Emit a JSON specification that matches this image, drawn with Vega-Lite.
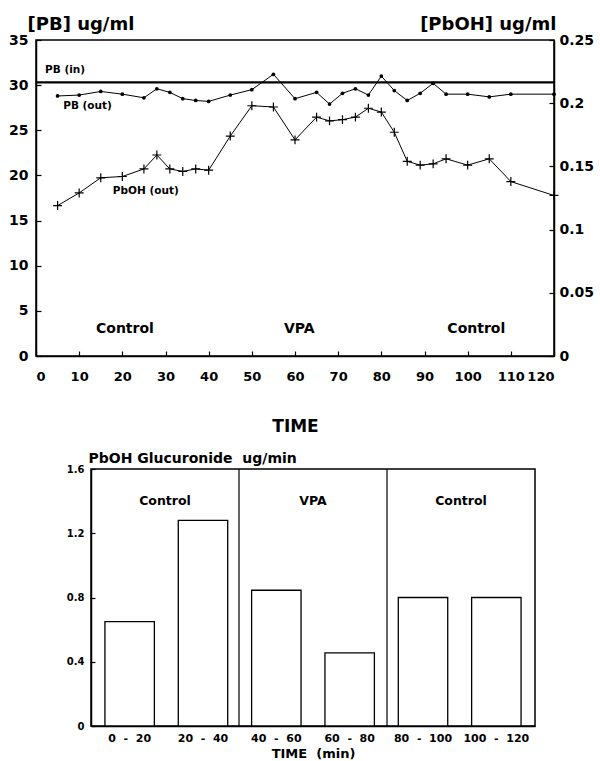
{
  "$schema": "https://vega.github.io/schema/vega-lite/v6.json",
  "padding": {"left": 7, "top": 14, "right": 5, "bottom": 0},
  "spacing": 15,
  "config": {
    "font": "DejaVu Sans",
    "view": {"stroke": "black", "strokeWidth": 1.5},
    "axis": {"labelFont": "DejaVu Sans", "labelFontWeight": "bold", "labelColor": "black", "titleFont": "DejaVu Sans", "titleFontWeight": "bold", "titleColor": "black", "domainColor": "black", "domainWidth": 1.5, "tickColor": "black", "tickWidth": 1.2, "grid": false},
    "text": {"font": "DejaVu Sans", "fontWeight": "bold", "color": "black"}
  },
  "datasets": {
    "pb_in": [{"t": 0, "pb": 30.3}, {"t": 120, "pb": 30.3}],
    "pb_out": [
      {"t": 5, "pb": 28.8}, {"t": 10, "pb": 28.9}, {"t": 15, "pb": 29.3}, {"t": 20, "pb": 29.0}, {"t": 25, "pb": 28.6},
      {"t": 28, "pb": 29.6}, {"t": 31, "pb": 29.2}, {"t": 34, "pb": 28.5}, {"t": 37, "pb": 28.3}, {"t": 40, "pb": 28.2},
      {"t": 45, "pb": 28.9}, {"t": 50, "pb": 29.5}, {"t": 55, "pb": 31.2}, {"t": 60, "pb": 28.5}, {"t": 65, "pb": 29.2},
      {"t": 68, "pb": 27.9}, {"t": 71, "pb": 29.1}, {"t": 74, "pb": 29.6}, {"t": 77, "pb": 28.9}, {"t": 80, "pb": 31.0},
      {"t": 83, "pb": 29.4}, {"t": 86, "pb": 28.3}, {"t": 89, "pb": 29.1}, {"t": 92, "pb": 30.2}, {"t": 95, "pb": 29.0},
      {"t": 100, "pb": 29.0}, {"t": 105, "pb": 28.7}, {"t": 110, "pb": 29.0}, {"t": 120, "pb": 29.0}
    ],
    "pboh": [
      {"t": 5, "pboh": 0.119}, {"t": 10, "pboh": 0.129}, {"t": 15, "pboh": 0.141}, {"t": 20, "pboh": 0.142}, {"t": 25, "pboh": 0.148},
      {"t": 28, "pboh": 0.159}, {"t": 31, "pboh": 0.148}, {"t": 34, "pboh": 0.146}, {"t": 37, "pboh": 0.148}, {"t": 40, "pboh": 0.147},
      {"t": 45, "pboh": 0.174}, {"t": 50, "pboh": 0.198}, {"t": 55, "pboh": 0.197}, {"t": 60, "pboh": 0.171}, {"t": 65, "pboh": 0.189},
      {"t": 68, "pboh": 0.186}, {"t": 71, "pboh": 0.187}, {"t": 74, "pboh": 0.189}, {"t": 77, "pboh": 0.196}, {"t": 80, "pboh": 0.193},
      {"t": 83, "pboh": 0.177}, {"t": 86, "pboh": 0.154}, {"t": 89, "pboh": 0.151}, {"t": 92, "pboh": 0.152}, {"t": 95, "pboh": 0.156},
      {"t": 100, "pboh": 0.151}, {"t": 105, "pboh": 0.156}, {"t": 110, "pboh": 0.138}, {"t": 120, "pboh": 0.127}
    ],
    "series_labels": [
      {"t": 2.1, "pb": 31.7, "label": "PB (in)"},
      {"t": 6.3, "pb": 27.7, "label": "PB (out)"},
      {"t": 17.8, "pb": 18.3, "label": "PbOH (out)"}
    ],
    "phase_labels_top": [
      {"t": 20.6, "pb": 3.0, "label": "Control"},
      {"t": 61, "pb": 3.0, "label": "VPA"},
      {"t": 102, "pb": 3.0, "label": "Control"}
    ],
    "glucuronide": [
      {"interval": "0 - 20", "rate": 0.65},
      {"interval": "20 - 40", "rate": 1.28},
      {"interval": "40 - 60", "rate": 0.845},
      {"interval": "60 - 80", "rate": 0.455},
      {"interval": "80 - 100", "rate": 0.80},
      {"interval": "100 - 120", "rate": 0.80}
    ],
    "phase_bounds": [{"t": 40}, {"t": 80}],
    "phase_labels_bottom": [
      {"t": 20, "rate": 1.4, "label": "Control"},
      {"t": 60, "rate": 1.4, "label": "VPA"},
      {"t": 100, "rate": 1.4, "label": "Control"}
    ]
  },
  "vconcat": [
    {
      "width": 518,
      "height": 316,
      "layer": [
        {
          "layer": [
            {"data": {"name": "pb_in"}, "mark": {"type": "line", "color": "black", "strokeWidth": 2.2}},
            {"data": {"name": "pb_out"}, "mark": {"type": "line", "color": "black", "strokeWidth": 1}},
            {"data": {"name": "pb_out"}, "mark": {"type": "point", "filled": true, "color": "black", "size": 14, "opacity": 1}},
            {"data": {"name": "series_labels"}, "mark": {"type": "text", "align": "left", "fontSize": 10.5}, "encoding": {"text": {"field": "label"}}},
            {"data": {"name": "phase_labels_top"}, "mark": {"type": "text", "fontSize": 14}, "encoding": {"text": {"field": "label"}}}
          ],
          "encoding": {
            "x": {"field": "t", "type": "quantitative", "scale": {"domain": [0, 120], "nice": false},
              "axis": {"values": [0, 10, 20, 30, 40, 50, 60, 70, 80, 90, 100, 110, 120], "tickSize": -5, "labelFontSize": 13, "labelPadding": 19, "title": "TIME", "titleFontSize": 17, "titleY": 70, "titleBaseline": "middle"}},
            "y": {"field": "pb", "type": "quantitative", "scale": {"domain": [0, 35], "nice": false},
              "axis": {"values": [0, 5, 10, 15, 20, 25, 30, 35], "tickSize": -5, "labelFontSize": 14, "labelPadding": 13, "title": "[PB] ug/ml", "titleAngle": 0, "titleX": -9, "titleY": -16, "titleAlign": "left", "titleBaseline": "middle", "titleFontSize": 18}}
          }
        },
        {
          "data": {"name": "pboh"},
          "layer": [
            {"mark": {"type": "line", "color": "black", "strokeWidth": 1}},
            {"mark": {"type": "point", "shape": "M-1,0H1M0,-1V1", "filled": false, "color": "black", "strokeWidth": 1.2, "size": 80, "opacity": 1}}
          ],
          "encoding": {
            "x": {"field": "t", "type": "quantitative"},
            "y": {"field": "pboh", "type": "quantitative", "scale": {"domain": [0, 0.25], "nice": false},
              "axis": {"orient": "right", "values": [0, 0.05, 0.1, 0.15, 0.2, 0.25], "format": "~g", "tickSize": -5, "labelFontSize": 14, "labelPadding": 10, "title": "[PbOH] ug/ml", "titleAngle": 0, "titleX": 2, "titleY": -16, "titleAlign": "right", "titleBaseline": "middle", "titleFontSize": 18}}
          }
        }
      ],
      "resolve": {"scale": {"y": "independent"}}
    },
    {
      "spacing": 0,
      "hconcat": [
        {"width": 29, "height": 10, "view": {"stroke": null}, "data": {"values": []}, "mark": "point"},
        {
          "width": 444,
          "height": 257,
          "layer": [
            {
              "data": {"name": "glucuronide"},
              "mark": {"type": "bar", "fill": "white", "stroke": "black", "strokeWidth": 1.3},
              "encoding": {
                "x": {"field": "interval", "type": "nominal", "sort": null, "scale": {"paddingInner": 0.326, "paddingOuter": 0.19},
                  "axis": {"title": "TIME\u00a0\u00a0(min)", "labelExpr": "replace(datum.label, ' - ', '\u00a0\u00a0-\u00a0\u00a0')", "labelFontSize": 11, "labelAngle": 0, "tickSize": -4, "labelPadding": 10, "titleFontSize": 13, "titleY": 27, "titleBaseline": "middle"}},
                "y": {"field": "rate", "type": "quantitative", "title": "PbOH Glucuronide\u00a0\u00a0ug/min", "scale": {"domain": [0, 1.6], "nice": false},
                  "axis": {"values": [0, 0.4, 0.8, 1.2, 1.6], "format": "~g", "tickSize": -4, "labelFontSize": 10, "labelPadding": 11, "titleAngle": 0, "titleAlign": "left", "titleBaseline": "middle", "titleX": -3, "titleY": -11, "titleFontSize": 14}}
              }
            },
            {
              "data": {"name": "phase_bounds"},
              "mark": {"type": "rule", "color": "black", "strokeWidth": 1.2},
              "encoding": {"x": {"field": "t", "type": "quantitative", "scale": {"domain": [0, 120], "nice": false}, "axis": null}}
            },
            {
              "data": {"name": "phase_labels_bottom"},
              "mark": {"type": "text", "fontSize": 12.5},
              "encoding": {
                "x": {"field": "t", "type": "quantitative", "scale": {"domain": [0, 120], "nice": false}, "axis": null},
                "y": {"field": "rate", "type": "quantitative", "title": "PbOH Glucuronide\u00a0\u00a0ug/min"},
                "text": {"field": "label"}
              }
            }
          ],
          "resolve": {"scale": {"x": "independent"}}
        }
      ]
    }
  ]
}
